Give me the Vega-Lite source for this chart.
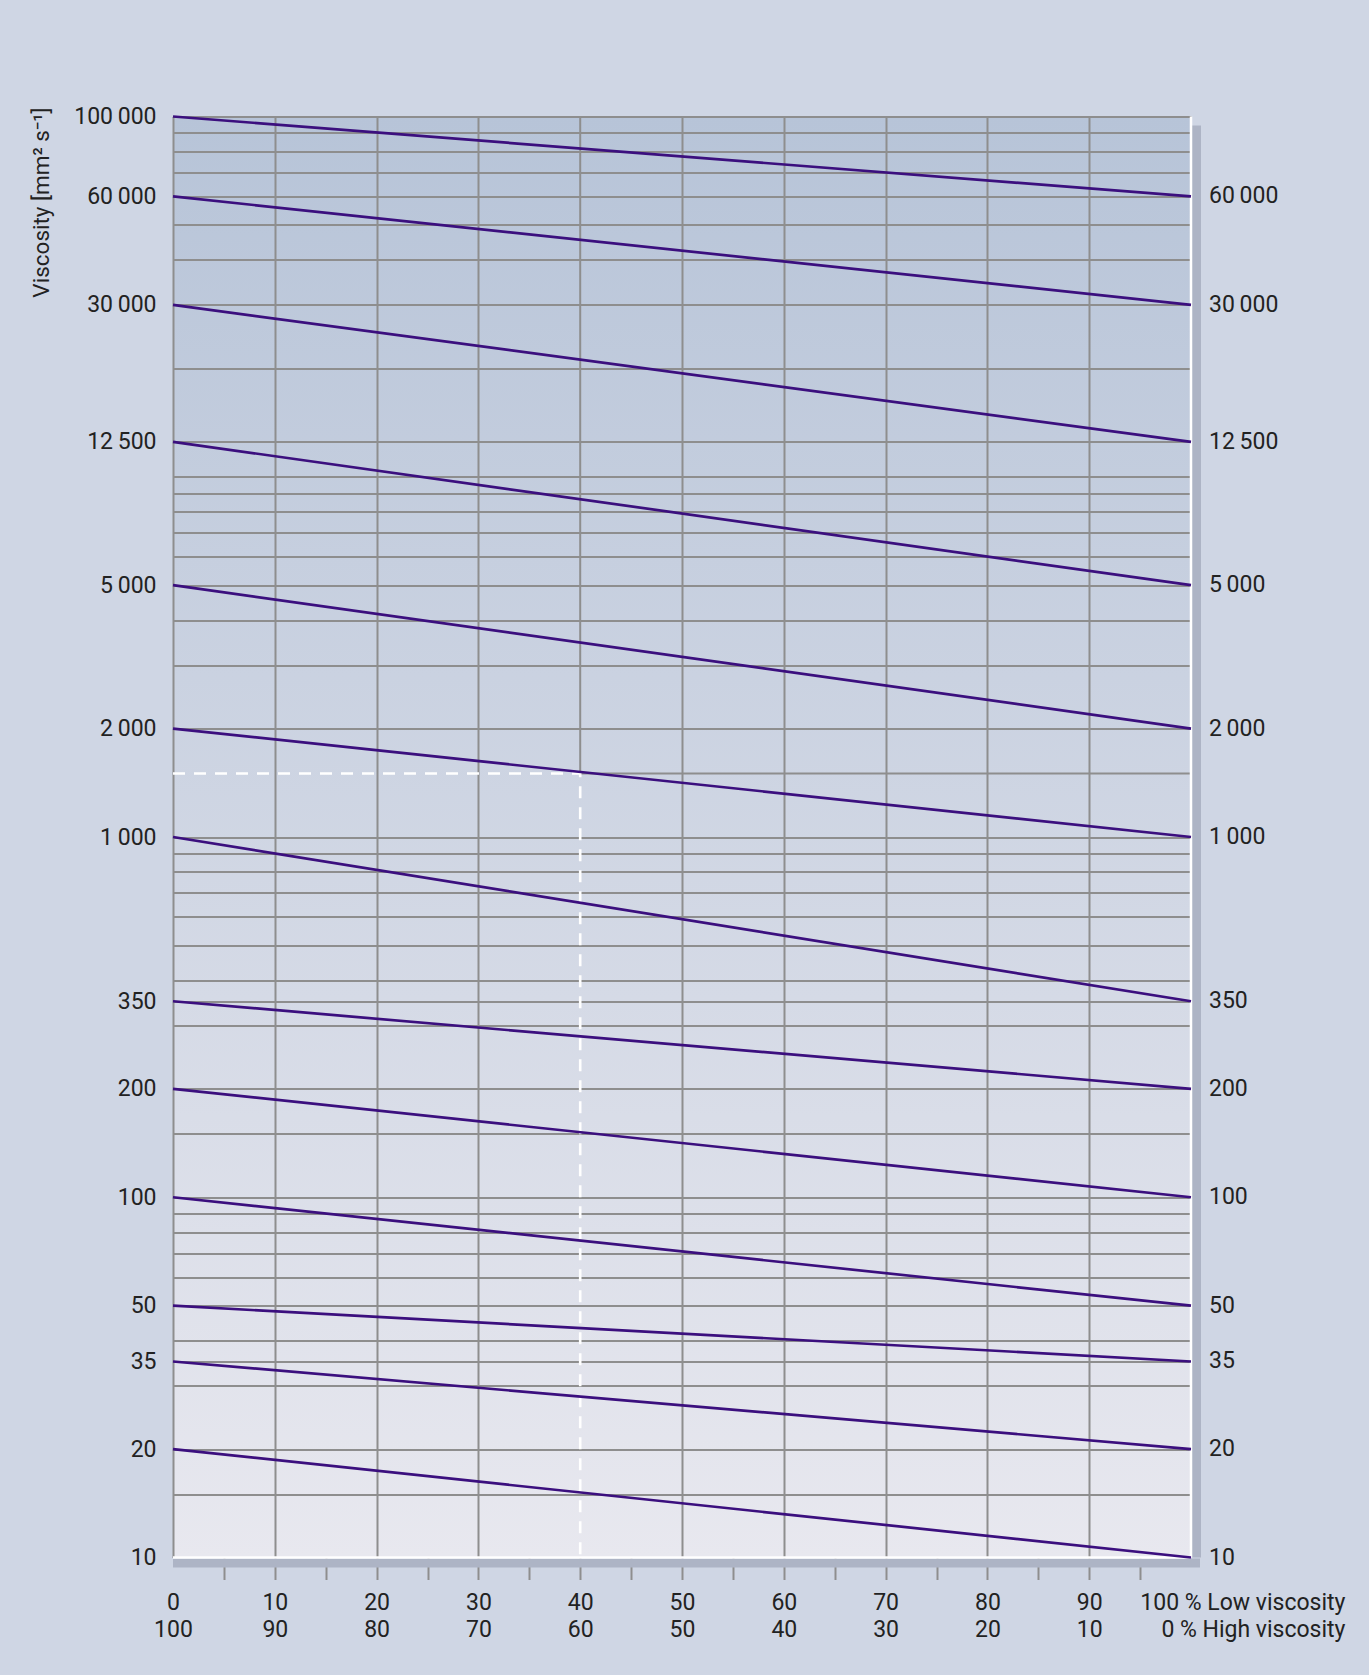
{
  "$schema": "https://vega.github.io/schema/vega-lite/v6.json",
  "width": 1018,
  "height": 1441,
  "autosize": {"type": "none"},
  "padding": {"left": 173, "top": 116.5, "right": 178, "bottom": 117.5},
  "background": "#cfd6e4",
  "config": {
    "font": "Roboto",
    "locale": {"number": {"decimal": ".", "thousands": "\u2009", "grouping": [3], "currency": ["", ""]}},
    "view": {
      "stroke": null,
      "fill": {"gradient": "linear", "x1": 0, "y1": 0, "x2": 0, "y2": 1,
        "stops": [{"offset": 0, "color": "#b7c4d8"}, {"offset": 1, "color": "#e8e8ef"}]}
    }
  },
  "datasets": {
    "lines": [
      {"id": 1, "pct": 0, "visc": 100000}, {"id": 1, "pct": 100, "visc": 60000},
      {"id": 2, "pct": 0, "visc": 60000}, {"id": 2, "pct": 100, "visc": 30000},
      {"id": 3, "pct": 0, "visc": 30000}, {"id": 3, "pct": 100, "visc": 12500},
      {"id": 4, "pct": 0, "visc": 12500}, {"id": 4, "pct": 100, "visc": 5000},
      {"id": 5, "pct": 0, "visc": 5000}, {"id": 5, "pct": 100, "visc": 2000},
      {"id": 6, "pct": 0, "visc": 2000}, {"id": 6, "pct": 100, "visc": 1000},
      {"id": 7, "pct": 0, "visc": 1000}, {"id": 7, "pct": 100, "visc": 350},
      {"id": 8, "pct": 0, "visc": 350}, {"id": 8, "pct": 100, "visc": 200},
      {"id": 9, "pct": 0, "visc": 200}, {"id": 9, "pct": 100, "visc": 100},
      {"id": 10, "pct": 0, "visc": 100}, {"id": 10, "pct": 100, "visc": 50},
      {"id": 11, "pct": 0, "visc": 50}, {"id": 11, "pct": 100, "visc": 35},
      {"id": 12, "pct": 0, "visc": 35}, {"id": 12, "pct": 100, "visc": 20},
      {"id": 13, "pct": 0, "visc": 20}, {"id": 13, "pct": 100, "visc": 10}
    ],
    "reading": [
      {"step": 1, "pct": 0, "visc": 1500},
      {"step": 2, "pct": 40, "visc": 1500},
      {"step": 3, "pct": 40, "visc": 10}
    ],
    "readingGrid": [
      {"step": 1, "pct": 40, "visc": 100000},
      {"step": 2, "pct": 40, "visc": 1500},
      {"step": 3, "pct": 100, "visc": 1500}
    ],
    "frame": [{}]
  },
  "layer": [
    {
      "data": {"name": "readingGrid"},
      "mark": {"type": "line", "stroke": "#8e8e8e", "strokeWidth": 2},
      "encoding": {
        "order": {"field": "step", "type": "quantitative"},
        "x": {
          "field": "pct", "type": "quantitative",
          "scale": {"domain": [0, 100], "nice": false, "zero": false},
          "axis": {
            "orient": "bottom", "title": null,
            "values": [0, 5, 10, 15, 20, 25, 30, 35, 40, 45, 50, 55, 60, 65, 70, 75, 80, 85, 90, 95, 100],
            "format": "d",
            "domain": false,
            "grid": true, "gridColor": "#8e8e8e", "gridWidth": 2,
            "gridOpacity": {"condition": {"test": "datum.value % 10 != 0 || datum.value == 40 || datum.value == 100", "value": 0}, "value": 1},
            "ticks": true, "tickSize": 22, "tickColor": "#8e8e8e", "tickWidth": 2,
            "tickOpacity": {"condition": {"test": "datum.value == 0 || datum.value == 100", "value": 0}, "value": 1},
            "labelExpr": "datum.value % 10 != 0 ? '' : (datum.value == 100 ? ['100 % Low viscosity', '0 % High viscosity'] : [datum.label, format(100 - datum.value, 'd')])",
            "labelAlign": {"condition": {"test": "datum.value == 100", "value": "right"}, "value": "center"},
            "labelOffset": {"condition": {"test": "datum.value == 100", "value": 154}, "value": 0},
            "labelPadding": 12, "labelBaseline": "top", "labelLineHeight": 27, "labelLimit": 0,
            "labelFont": "Roboto", "labelFontSize": 23, "labelColor": "#222222",
            "labelOverlap": false, "labelFlush": false, "labelBound": false
          }
        },
        "y": {
          "field": "visc", "type": "quantitative",
          "scale": {"type": "log", "domain": [10, 100000], "nice": false},
          "axis": {
            "orient": "left",
            "values": [10, 15, 20, 30, 35, 40, 50, 60, 70, 80, 90, 100, 150, 200, 300, 350, 400, 500, 600, 700, 800, 900, 1000, 1500, 2000, 3000, 4000, 5000, 6000, 7000, 8000, 9000, 10000, 12500, 20000, 30000, 40000, 50000, 60000, 70000, 80000, 90000, 100000],
            "format": ",d",
            "labelExpr": "indexof([10, 20, 35, 50, 100, 200, 350, 1000, 2000, 5000, 12500, 30000, 60000, 100000], datum.value) >= 0 ? datum.label : ''",
            "domain": false, "ticks": false,
            "grid": true, "gridColor": "#8e8e8e", "gridWidth": 2,
            "gridOpacity": {"condition": {"test": "datum.value == 10 || datum.value == 1500", "value": 0}, "value": 1},
            "labelPadding": 17, "labelFont": "Roboto", "labelFontSize": 23, "labelColor": "#222222",
            "labelAlign": "right", "labelBaseline": "middle", "labelLimit": 0,
            "labelOverlap": false, "labelFlush": false, "labelBound": false,
            "title": "Viscosity [mm\u00b2 s\u207b\u00b9]",
            "titleFont": "Roboto", "titleFontSize": 22.5, "titleFontWeight": "normal", "titleColor": "#222222",
            "titleAngle": 270, "titleX": -125, "titleY": -9.5, "titleAlign": "right", "titleBaseline": "alphabetic", "titleLimit": 0
          }
        }
      }
    },
    {
      "data": {"name": "frame"},
      "mark": {"type": "rule", "stroke": "#adb4c5", "strokeWidth": 9, "xOffset": 5.5, "yOffset": 9, "y2Offset": 9},
      "encoding": {"x": {"datum": 100, "type": "quantitative"}}
    },
    {
      "data": {"name": "frame"},
      "mark": {"type": "rule", "stroke": "#adb4c5", "strokeWidth": 9, "yOffset": 5.5, "xOffset": 9, "x2Offset": 9},
      "encoding": {"y": {"datum": 10, "type": "quantitative"}}
    },
    {
      "data": {"name": "frame"},
      "mark": {"type": "rule", "stroke": "#ffffff", "strokeWidth": 2.5},
      "encoding": {"x": {"datum": 100, "type": "quantitative"}}
    },
    {
      "data": {"name": "frame"},
      "mark": {"type": "rule", "stroke": "#ffffff", "strokeWidth": 2.5},
      "encoding": {"y": {"datum": 10, "type": "quantitative"}}
    },
    {
      "data": {"name": "reading"},
      "mark": {"type": "line", "stroke": "#ffffff", "strokeWidth": 2.6, "strokeDash": [12, 9]},
      "encoding": {
        "order": {"field": "step", "type": "quantitative"},
        "x": {"field": "pct", "type": "quantitative"},
        "y": {"field": "visc", "type": "quantitative"}
      }
    },
    {
      "data": {"name": "lines"},
      "mark": {"type": "line", "stroke": "#3b0f7e", "strokeWidth": 2.7},
      "encoding": {
        "x": {"field": "pct", "type": "quantitative"},
        "y": {"field": "visc", "type": "quantitative"},
        "detail": {"field": "id", "type": "nominal"}
      }
    },
    {
      "data": {"name": "lines"},
      "transform": [{"filter": "datum.pct == 100"}],
      "mark": {"type": "text", "align": "left", "baseline": "middle", "dx": 18, "font": "Roboto", "fontSize": 23, "fill": "#222222"},
      "encoding": {
        "x": {"field": "pct", "type": "quantitative"},
        "y": {"field": "visc", "type": "quantitative"},
        "text": {"field": "visc", "type": "quantitative", "format": ",d"}
      }
    }
  ]
}
